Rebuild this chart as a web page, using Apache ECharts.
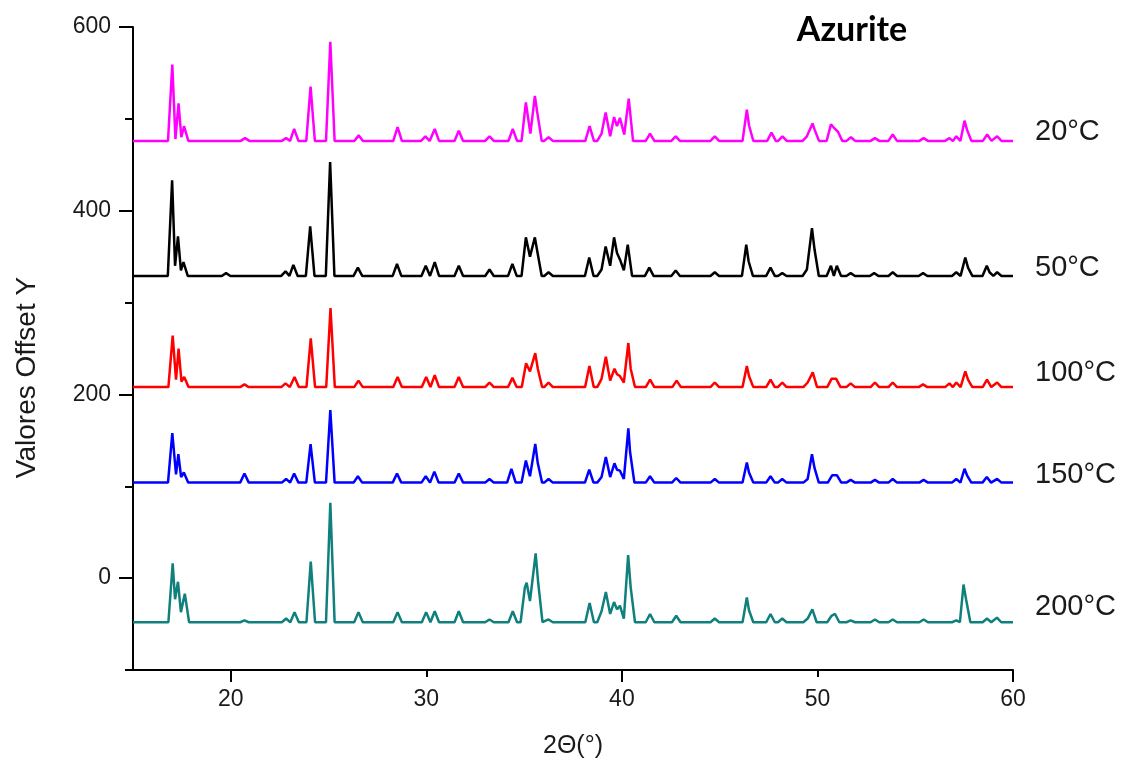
<!DOCTYPE html>
<html>
<head>
<meta charset="utf-8">
<title>Azurite</title>
<script src="https://cdn.jsdelivr.net/npm/echarts@6.0.0/dist/echarts.min.js"></script>
<style>
  html, body { margin: 0; padding: 0; background: #fff; }
  #main { width: 1124px; height: 765px; }
</style>
</head>
<body>
<div id="main"></div>
<script>
// peak tops (and dips between close peaks), [2theta, offset value]
var peaks20 = [[17.01,559],[17.17,478],[17.33,517],[17.47,480],[17.61,492],
  [20.73,479],[22.83,479],[23.24,489],[24.08,535],[25.09,584],[26.54,482],[28.53,491],[29.95,481],[30.43,489],[31.66,487],[33.23,481],[34.42,489],
  [35.09,518],[35.32,484],[35.55,525],[35.68,506],[36.25,480],[38.35,492],[38.96,484],[39.17,507],[39.4,481],[39.6,502],[39.75,492],[39.9,501],[40.12,483],[40.35,522],
  [41.44,484],[42.75,481],[44.75,481],[46.39,510],[46.5,493],[47.65,485],[48.21,481],[49.46,481],[49.75,495],[49.86,488],[50.69,494],[50.9,489],[51.05,486],
  [51.71,480],[52.94,479],[53.85,483],[55.43,479],[56.75,479],[57.1,481],[57.52,498],[57.65,488],[58.68,483],[59.19,481]];
var peaks50 = [[17.0,433],[17.15,340],[17.3,372],[17.45,335],[17.58,344],
  [19.76,332],[22.8,334],[23.2,341],[24.06,383],[25.08,453],[26.5,338],[28.5,342],[29.97,340],[30.43,344],[31.66,340],[33.23,336],[34.4,342],
  [35.09,371],[35.3,350],[35.55,371],[35.68,355],[36.25,333],[38.33,349],[38.96,336],[39.17,361],[39.4,340],[39.6,371],[39.75,354],[39.9,347],[40.1,335],[40.3,363],
  [41.4,338],[42.75,335],[44.75,333],[46.36,363],[46.48,345],[47.6,338],[48.2,332],[49.46,336],[49.72,381],[49.85,358],[50.69,340],[50.99,340],
  [51.7,332],[52.9,332],[53.85,333],[55.4,332],[57.1,333],[57.56,349],[57.7,338],[58.66,340],[58.8,333],[59.19,333]];
var peaks100 = [[17.03,264],[17.2,216],[17.33,250],[17.48,214],[17.62,219],
  [20.7,211],[22.8,212],[23.26,219],[24.09,261],[25.1,294],[26.53,215],[28.53,219],[29.99,219],[30.43,221],[31.66,219],[33.23,213],[34.4,218],
  [35.1,234],[35.3,225],[35.57,245],[35.7,228],[36.25,213],[38.34,231],[38.96,217],[39.18,241],[39.4,215],[39.62,228],[39.75,222],[39.9,220],[40.1,213],[40.33,256],[40.45,228],
  [41.44,216],[42.8,215],[44.75,213],[46.39,231],[46.5,220],[47.6,216],[48.2,213],[49.5,213],[49.76,224],[50.72,217],[50.96,217],
  [51.7,212],[52.94,213],[53.85,213],[55.4,211],[56.75,212],[57.1,213],[57.56,225],[57.7,216],[58.67,216],[59.19,213]];
var peaks150 = [[17.01,158],[17.2,113],[17.32,135],[17.46,110],[17.6,115],
  [20.7,114],[22.83,108],[23.24,114],[24.08,146],[25.09,183],[26.5,111],[28.5,114],[29.97,111],[30.41,116],[31.66,114],[33.23,108],[34.35,119],
  [35.09,128],[35.3,111],[35.57,146],[35.7,125],[36.25,108],[38.33,118],[38.96,110],[39.18,132],[39.4,110],[39.62,125],[39.75,118],[39.9,117],[40.1,108],[40.33,163],[40.42,137],
  [41.44,111],[42.78,109],[44.75,108],[46.39,126],[46.5,115],[47.6,111],[48.2,108],[49.5,108],[49.72,135],[49.85,120],[50.75,112],[51.0,112],
  [51.7,107],[52.94,107],[53.85,108],[55.43,107],[57.1,108],[57.52,119],[57.65,112],[58.66,110],[59.19,108]];
var peaks200 = [[17.03,16],[17.15,-23],[17.3,-4],[17.45,-37],[17.65,-17],
  [20.7,-46],[22.83,-44],[23.26,-37],[24.09,18],[25.09,82],[26.53,-37],[28.53,-37],[29.99,-37],[30.43,-36],[31.66,-36],[33.23,-45],[34.42,-36],
  [35.04,-10],[35.13,-5],[35.3,-25],[35.59,27],[35.72,-5],[36.25,-45],[38.35,-27],[38.96,-36],[39.18,-15],[39.4,-39],[39.6,-26],[39.75,-34],[39.9,-30],[40.1,-44],[40.32,25],[40.45,-10],
  [41.44,-39],[42.78,-41],[44.75,-44],[46.39,-21],[46.5,-35],[47.6,-39],[48.2,-44],[49.5,-44],[49.74,-34],[50.72,-41],[50.9,-39],
  [51.7,-46],[52.94,-45],[53.85,-45],[55.43,-45],[57.1,-46],[57.47,-7],[57.6,-23],[58.67,-44],[59.18,-43]];

var names = ['20°C', '50°C', '100°C', '150°C', '200°C'];
var baselines = [476, 329, 208, 104, -48];
var colors = ['#ff00ff', '#000000', '#ff0000', '#0000ff', '#0f807c'];
var labelShift = [-9, -8, -14, -8, -15];
var xTicks = [20, 30, 40, 50, 60];
var yTicks = [0, 200, 400, 600];

// line through the peaks, dropping to the baseline between separate peaks
function trace(peaks, base) {
  var w = 0.22, join = 0.3, pts = [[15, base]];
  for (var i = 0; i < peaks.length; i++) {
    var p = peaks[i], prev = peaks[i - 1], next = peaks[i + 1];
    if (!prev || p[0] - prev[0] >= join) pts.push([Math.max(p[0] - w, prev ? (prev[0] + p[0]) / 2 : 15), base]);
    pts.push(p);
    if (!next || next[0] - p[0] >= join) pts.push([Math.min(p[0] + w, next ? (p[0] + next[0]) / 2 : 60), base]);
  }
  pts.push([60, base]);
  return pts;
}

var allPeaks = [peaks20, peaks50, peaks100, peaks150, peaks200];
var series = [];
for (var s = 0; s < allPeaks.length; s++) {
  series.push({
    name: names[s],
    type: 'line',
    xAxisIndex: 0,
    yAxisIndex: 0,
    data: trace(allPeaks[s], baselines[s]),
    showSymbol: false,
    lineStyle: { color: colors[s], width: 2.5 },
    itemStyle: { color: colors[s] },
    endLabel: {
      show: true,
      formatter: '{a}',
      distance: 22,
      offset: [0, labelShift[s]],
      fontSize: 29,
      fontFamily: 'Liberation Sans',
      color: '#1a1a1a'
    },
    animation: false
  });
}

var axisFont = { fontFamily: 'Liberation Sans', fontSize: 23, color: '#1a1a1a' };
var plotRight = 111;
var x20 = 133 + 880 * 5 / 45; // pixel of 2theta = 20
var tickStyle = { color: '#000', width: 2 };

var chart = echarts.init(document.getElementById('main'));
chart.setOption({
  animation: false,
  title: {
    text: 'Azurite',
    left: 847,
    top: 8,
    textAlign: 'center',
    textStyle: { fontFamily: 'Lato', fontWeight: 'bold', fontSize: 34, color: '#000' }
  },
  grid: [
    { left: 133, right: plotRight, top: 27, bottom: 95 },
    { left: 133, right: plotRight, top: 27, bottom: 95 + 643 / 7 },
    { left: x20, right: plotRight, top: 27, bottom: 95 }
  ],
  xAxis: [
    {
      gridIndex: 0, type: 'value', min: 15, max: 60,
      axisLine: { onZero: false, lineStyle: { color: '#000', width: 2 } },
      axisTick: { customValues: xTicks, length: 7, lineStyle: tickStyle },
      axisLabel: Object.assign({ customValues: xTicks, margin: 18 }, axisFont),
      splitLine: { show: false },
      name: '2Θ(°)', nameLocation: 'middle', nameGap: 64,
      nameTextStyle: { fontFamily: 'Liberation Sans', fontSize: 25, color: '#1a1a1a' }
    },
    { gridIndex: 1, type: 'value', min: 15, max: 60, show: false },
    {
      gridIndex: 2, type: 'value', min: 20, max: 60, interval: 20,
      axisLine: { show: false, onZero: false },
      axisTick: { length: 12, lineStyle: tickStyle },
      axisLabel: { show: false },
      splitLine: { show: false }
    }
  ],
  yAxis: [
    {
      gridIndex: 0, type: 'value', min: -100, max: 600, interval: 100,
      axisLine: { show: true, onZero: false, lineStyle: { color: '#000', width: 2 } },
      axisTick: { show: true, length: 8, lineStyle: tickStyle },
      axisLabel: { show: false },
      splitLine: { show: false },
      name: 'Valores Offset Y', nameLocation: 'middle', nameGap: 92, nameRotate: 90,
      nameTextStyle: { fontFamily: 'Liberation Sans', fontSize: 28, color: '#1a1a1a', padding: [0, 58, 0, 0] }
    },
    {
      gridIndex: 1, type: 'value', min: 0, max: 600, interval: 200,
      axisLine: { show: false, onZero: false },
      axisTick: { show: true, length: 14, lineStyle: tickStyle },
      axisLabel: Object.assign({ margin: 22, formatter: function (v) { return yTicks.indexOf(v) >= 0 ? String(v) : ''; } }, axisFont),
      splitLine: { show: false }
    },
    { gridIndex: 2, type: 'value', min: -100, max: 600, show: false }
  ],
  series: series
});
</script>
</body>
</html>
